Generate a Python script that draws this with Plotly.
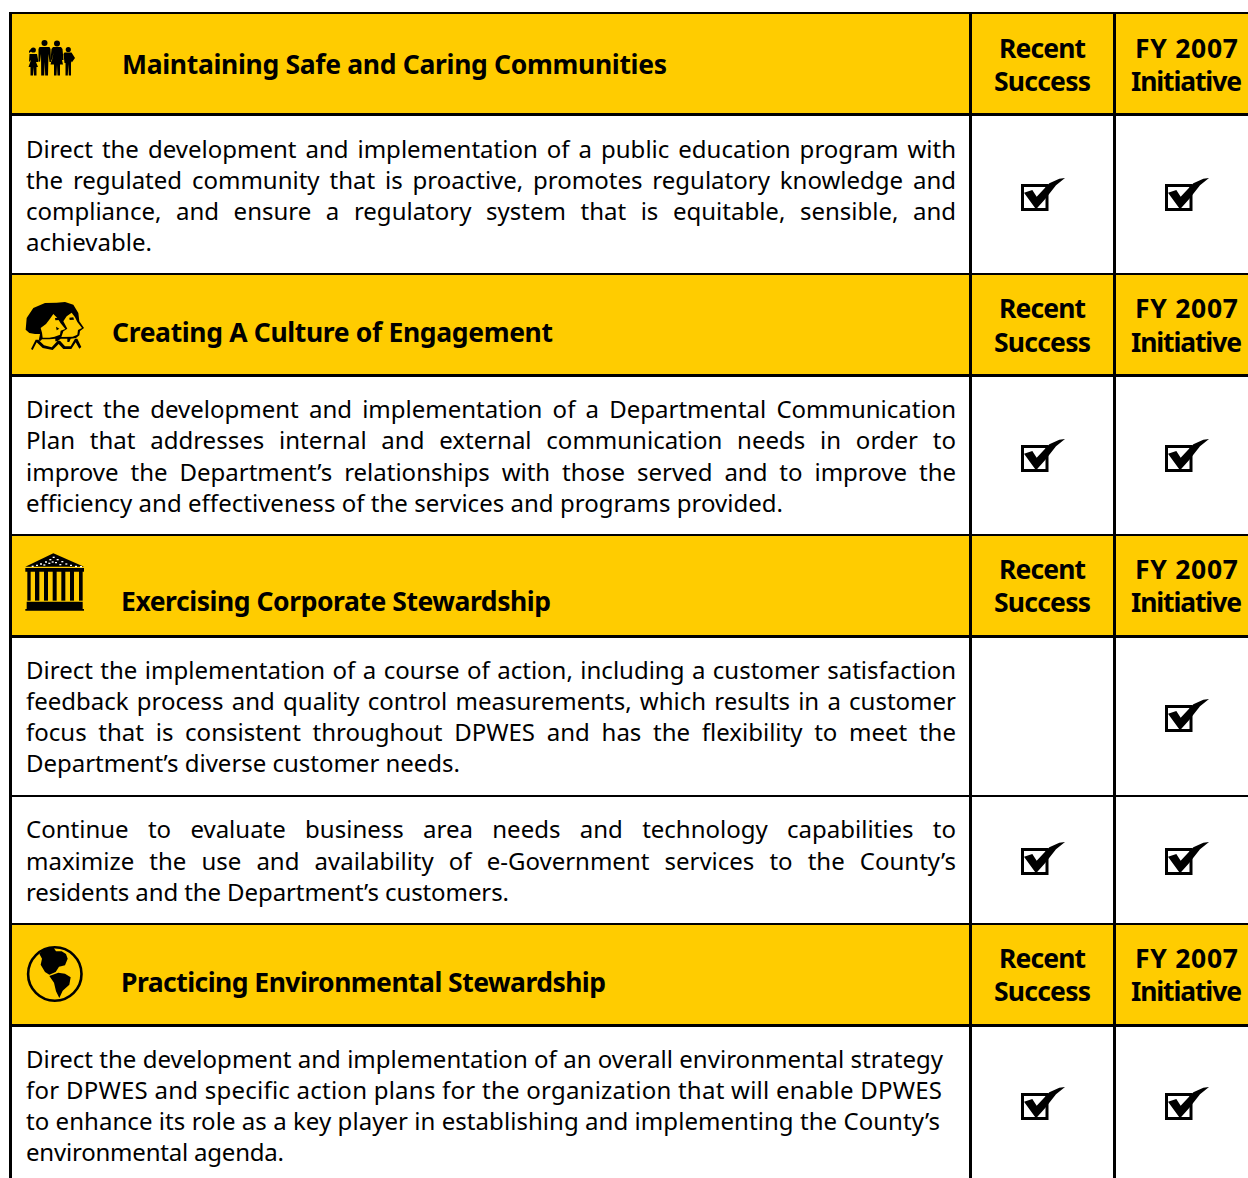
import json
import plotly.graph_objects as go

W, H = 1248, 1178
YELLOW = "#FFCC00"
BODY_FONT = "Noto Sans"
BODY_SIZE = 24
HEAD_SIZE = 26.5
COL_SIZE = 26.5

# Table geometry
column_rules = [10.5, 970.5, 1114.5]
row_rules = [13, 114.5, 274, 375.5, 535, 636.5, 796, 924, 1025.5]
row_rule_widths = [2, 3, 2, 3, 2, 3, 2, 2, 3]
header_bands = [(13, 114), (274, 376), (535, 637), (924, 1026)]

# Section headers: title, left, right, centre y
section_titles = ["Maintaining Safe and Caring Communities", "Creating A Culture of Engagement",
                  "Exercising Corporate Stewardship", "Practicing Environmental Stewardship"]
section_left = [123, 113, 122, 122]
section_right = [667, 553, 551, 606]
section_y = [64, 332, 601, 982]

col_head_y = [(48, 81), (308, 342), (569, 602), (958, 991)]
col_heads = [("Recent", 1000, 1086), ("Success", 995, 1091), ("FY 2007", 1136, 1238), ("Initiative", 1132, 1242)]

# Body text, line by line: text, centre y, right edge of the line
body_lines = [
    ("Direct the development and implementation of a public education program with", 148, 956),
    ("the regulated community that is proactive, promotes regulatory knowledge and", 179, 956),
    ("compliance, and ensure a regulatory system that is equitable, sensible, and", 210, 956),
    ("achievable.", 241, 152),
    ("Direct the development and implementation of a Departmental Communication", 408, 956),
    ("Plan that addresses internal and external communication needs in order to", 439, 956),
    ("improve the Department\u2019s relationships with those served and to improve the", 471, 956),
    ("efficiency and effectiveness of the services and programs provided.", 502, 783),
    ("Direct the implementation of a course of action, including a customer satisfaction", 669, 956),
    ("feedback process and quality control measurements, which results in a customer", 700, 956),
    ("focus that is consistent throughout DPWES and has the flexibility to meet the", 731, 956),
    ("Department\u2019s diverse customer needs.", 762, 460),
    ("Continue to evaluate business area needs and technology capabilities to", 828, 956),
    ("maximize the use and availability of e-Government services to the County\u2019s", 860, 956),
    ("residents and the Department\u2019s customers.", 891, 509),
    ("Direct the development and implementation of an overall environmental strategy", 1058, 943),
    ("for DPWES and specific action plans for the organization that will enable DPWES", 1089, 942),
    ("to enhance its role as a key player in establishing and implementing the County\u2019s", 1120, 940),
    ("environmental agenda.", 1151, 284),
]
BODY_LEFT = 26
justified_right = 956

# Check marks: row offset from first row, recent-success flag, initiative flag
check_rows = [0, 261, 521, 664, 909]
recent_checked = [1, 1, 0, 1, 1]
initiative_checked = [1, 1, 1, 1, 1]
check_columns = [0, 144]

shapes, annotations, fits = [], [], []


def add_text(text, x0, x1, y, size, bold, mode):
    annotations.append(dict(
        x=x0, y=y, xref="x", yref="y", text=text, showarrow=False, xanchor="left", yanchor="middle",
        align="left", borderpad=0, borderwidth=0,
        font=dict(family=BODY_FONT, size=size, color="#000000", weight=700 if bold else 400)))
    fits.append([x0, x1, mode])


def poly(points, scale=1.0, ox=0.0, oy=0.0, fill="#000000"):
    d = "M" + " L".join(f"{ox + px / scale:.2f},{oy + py / scale:.2f}" for px, py in points) + " Z"
    shapes.append(dict(type="path", path=d, xref="x", yref="y", fillcolor=fill, line_width=0, layer="above"))


def rect(x0, y0, x1, y1, fill="#000000", line=None, lw=0):
    shapes.append(dict(type="rect", x0=x0, y0=y0, x1=x1, y1=y1, xref="x", yref="y", fillcolor=fill,
                       line=dict(color=line or fill, width=lw), layer="above"))


def circle(cx, cy, r, fill="#000000", line=None, lw=0):
    shapes.append(dict(type="circle", x0=cx - r, y0=cy - r, x1=cx + r, y1=cy + r, xref="x", yref="y",
                       fillcolor=fill, line=dict(color=line or fill, width=lw), layer="above"))


# Bands and rules
for y0, y1 in header_bands:
    rect(column_rules[0], y0, W, y1, fill=YELLOW)
for y, lw in zip(row_rules, row_rule_widths):
    shapes.append(dict(type="line", x0=column_rules[0], x1=W, y0=y, y1=y, xref="x", yref="y",
                       line=dict(color="#000000", width=lw), layer="above"))
for x in column_rules:
    shapes.append(dict(type="line", x0=x, x1=x, y0=12, y1=H, xref="x", yref="y",
                       line=dict(color="#000000", width=3), layer="above"))

# Text
for t, x0, x1, y in zip(section_titles, section_left, section_right, section_y):
    add_text(t, x0 - 1, x1, y, HEAD_SIZE, True, "fit")
for (y0, y1) in col_head_y:
    for (t, x0, x1), y in zip(col_heads, (y0, y1, y0, y1)):
        add_text(t, x0 - 1, x1, y, COL_SIZE, True, "fit")
for t, y, right in body_lines:
    add_text(t, BODY_LEFT, right, y, BODY_SIZE, False, "justify" if right == justified_right else "fit")


# Icons: people
def family():
    for cx, cy, r in [(33.3, 50, 2.6), (44.5, 43, 3), (57, 43.5, 3), (68.3, 49.5, 2.6)]:
        circle(cx, cy, r)
    # girl
    poly([(29.5, 54), (37, 54), (38.5, 62), (36, 62), (38, 67), (36.5, 67), (36.5, 75.5), (34, 75.5), (33.5, 67),
          (33, 75.5), (30.5, 75.5), (30.5, 67), (28.5, 67), (31, 60), (29, 62)])
    poly([(31, 49), (29, 51), (29, 53), (32, 51)])
    # man
    poly([(39.5, 47), (49.5, 47), (50.5, 49), (51, 62), (49.5, 62), (48.5, 54), (48, 75.5), (45.2, 75.5), (44.7, 62),
          (44.2, 75.5), (41.2, 75.5), (41, 54), (40, 62), (38.5, 61), (38.5, 49)])
    # woman
    poly([(53, 47), (61, 47), (62.5, 49), (63.5, 60), (62, 60), (60.5, 53), (63, 64.5), (60, 64.5), (60, 75.5),
          (57.5, 75.5), (57, 65), (56.5, 75.5), (54, 75.5), (54, 64.5), (50.5, 64.5), (53.5, 53), (52, 60), (50.5, 60), (51.5, 49)])
    # boy
    poly([(64.5, 52.5), (71.5, 52.5), (75, 58), (71.8, 62.5), (71, 61), (71, 75.5), (68.8, 75.5), (68.3, 64),
          (67.8, 75.5), (65.5, 75.5), (65.5, 63), (64.5, 63), (63.5, 54)])


def heads():
    s, ox, oy = 3, 20, 298
    poly([(17, 95), (20, 60), (40, 30), (75, 15), (110, 14), (135, 12), (160, 20), (175, 45), (178, 70), (192, 90),
          (180, 99), (178, 112), (168, 120), (152, 122), (148, 132), (142, 132), (142, 122), (122, 122), (112, 130),
          (106, 130), (106, 122), (88, 124), (66, 124), (62, 128), (56, 128), (60, 108), (45, 108), (28, 105)], s, ox, oy)
    poly([(62, 90), (78, 78), (90, 62), (100, 48), (112, 60), (122, 76), (136, 93), (122, 98), (120, 110), (104, 116),
          (88, 119), (68, 119), (66, 104)], s, ox, oy, YELLOW)
    poly([(130, 70), (140, 55), (155, 44), (165, 58), (172, 72), (186, 90), (174, 96), (172, 110), (158, 116),
          (124, 117), (130, 100), (142, 92)], s, ox, oy, YELLOW)
    poly([(105, 60), (118, 59), (120, 66), (106, 67)], s, ox, oy)
    poly([(148, 59), (160, 58), (162, 65), (149, 66)], s, ox, oy)
    poly([(108, 86), (118, 92), (110, 97)], s, ox, oy)
    # collars
    poly([(33, 153), (47, 125), (55, 125), (72, 142), (95, 148), (113, 128), (120, 128), (135, 145), (152, 145),
          (165, 122), (172, 122), (184, 147), (178, 152), (167, 133), (154, 153), (130, 153), (116, 138), (98, 156),
          (68, 150), (50, 133), (38, 156)], s, ox, oy)


def temple():
    s, ox, oy = 3, 20, 550
    poly([(100, 10), (192, 50), (16, 50)], s, ox, oy)
    for px, py in [(98, 20), (88, 27), (110, 27), (75, 34), (124, 33), (60, 40), (136, 40), (48, 44), (150, 44),
                   (85, 38), (95, 34), (105, 36), (118, 42), (35, 47), (165, 47), (70, 43), (180, 48)]:
        poly([(px, py), (px + 6, py), (px + 6, py + 4), (px, py + 4)], s, ox, oy, "#FFFFFF")
    rect(ox + 16 / s, oy + 54 / s, ox + 192 / s, oy + 65 / s)
    for x0, x1 in [(22, 32), (45, 58), (72, 84), (98, 110), (124, 136), (150, 162), (177, 188)]:
        rect(ox + x0 / s, oy + 60 / s, ox + x1 / s, oy + 152 / s)
    rect(ox + 20 / s, oy + 155 / s, ox + 188 / s, oy + 177 / s)
    rect(ox + 16 / s, oy + 177 / s, ox + 192 / s, oy + 182 / s)


def globe():
    s, ox, oy = 3, 20, 942
    circle(54.8, 974, 26.7, fill=YELLOW, line="#000000", lw=2.6)
    poly([(58, 35), (72, 22), (100, 16), (108, 28), (125, 28), (138, 36), (143, 50), (135, 70), (117, 74), (107, 90),
          (88, 98), (75, 90), (62, 68), (66, 50)], s, ox, oy)
    poly([(88, 102), (115, 92), (135, 95), (152, 106), (148, 128), (128, 146), (118, 168), (108, 148), (102, 122)], s, ox, oy)


family()
heads()
temple()
globe()


# Check boxes
def check(dx, dy):
    ox, oy = 960 + dx, dy
    shapes.append(dict(type="rect", x0=ox + 62.5, y0=oy + 185.5, x1=ox + 87, y1=oy + 209.5, xref="x", yref="y",
                       fillcolor="rgba(0,0,0,0)", line=dict(color="#000000", width=3), layer="above"))
    poly([(192, 578), (217, 570), (230, 590), (268, 550), (298, 536), (315, 534), (288, 556), (255, 598), (228, 628)],
         3, ox, oy)


for off, a, b in zip(check_rows, recent_checked, initiative_checked):
    for dx, flag in zip(check_columns, (a, b)):
        if flag:
            check(dx, off)

fig = go.Figure()
fig.update_layout(
    width=W, height=H, autosize=False, margin=dict(l=0, r=0, t=0, b=0, pad=0),
    paper_bgcolor="#FFFFFF", plot_bgcolor="#FFFFFF", showlegend=False,
    xaxis=dict(range=[0, W], visible=False, fixedrange=True),
    yaxis=dict(range=[H, 0], visible=False, fixedrange=True),
    shapes=shapes, annotations=annotations,
)

post = """
document.body.style.margin='0';
document.documentElement.style.overflow='hidden';
var fits=%s;
fits.forEach(function(f,i){
  var g=document.querySelector('.annotation[data-index="'+i+'"] text');
  if(!g) return;
  var target=f[1]-f[0];
  var w=g.getComputedTextLength();
  var s=g.textContent;
  if(f[2]==='justify'){
    var n=(s.match(/ /g)||[]).length;
    g.style.wordSpacing=((target-w)/n)+'px';
  } else {
    g.style.letterSpacing=((target-w)/Math.max(1,s.length-1))+'px';
  }
});
""" % json.dumps(fits)

fig.write_html("out.html", post_script=post, config={"displayModeBar": False, "responsive": False})
